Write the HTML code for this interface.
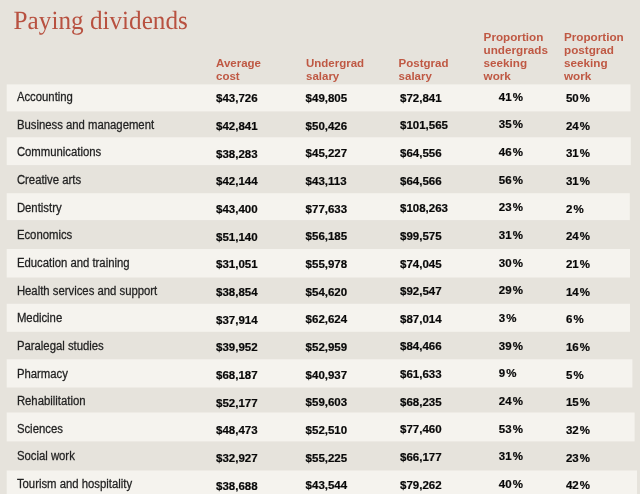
<!DOCTYPE html>
<html><head><meta charset="utf-8"><style>
html,body{margin:0;padding:0;}
body{width:640px;height:494px;overflow:hidden;background:#e6e3dc;}
svg{display:block;}
text{font-family:"Liberation Sans",Arial,sans-serif;white-space:pre;text-rendering:auto;}
.t{font-family:"Liberation Serif","Times New Roman",serif;text-rendering:geometricPrecision;font-size:26.3px;fill:#b85140;}
.h{font-weight:bold;font-size:11.5px;fill:#bf5843;}
.n{font-size:12.0px;fill:#222222;stroke:#222222;stroke-width:0.25px;}
.v{font-size:11.5px;font-weight:bold;fill:#080808;stroke:#080808;stroke-width:0.2px;}
</style></head><body>
<svg width="640" height="494" viewBox="0 0 640 494">
<rect x="0" y="0" width="640" height="494" fill="#e6e3dc"/>
<text class="t" transform="translate(13.6,28.6) scale(0.958,1)">Paying dividends</text>

<text class="h" x="216.0" y="67.00" style="font-size:11.5px">Average</text>
<text class="h" x="216.0" y="80.00" style="font-size:11.5px">cost</text>
<text class="h" x="306.0" y="67.00" style="font-size:11.5px">Undergrad</text>
<text class="h" x="306.0" y="80.00" style="font-size:11.5px">salary</text>
<text class="h" x="398.6" y="67.00" style="font-size:11.5px">Postgrad</text>
<text class="h" x="398.6" y="80.00" style="font-size:11.5px">salary</text>
<text class="h" x="483.6" y="41.00" style="font-size:11.7px">Proportion</text>
<text class="h" x="483.6" y="54.00" style="font-size:11.7px">undergrads</text>
<text class="h" x="483.6" y="67.00" style="font-size:11.7px">seeking</text>
<text class="h" x="483.6" y="80.00" style="font-size:11.7px">work</text>
<text class="h" x="564.0" y="41.00" style="font-size:11.7px">Proportion</text>
<text class="h" x="564.0" y="54.00" style="font-size:11.7px">postgrad</text>
<text class="h" x="564.0" y="67.00" style="font-size:11.7px">seeking</text>
<text class="h" x="564.0" y="80.00" style="font-size:11.7px">work</text>
<rect x="6.7" y="84.4" width="623.80" height="27.00" fill="#f5f3ee"/>
<rect x="6.7" y="137.3" width="624.10" height="27.80" fill="#f5f3ee"/>
<rect x="6.7" y="193.2" width="623.10" height="26.90" fill="#f5f3ee"/>
<rect x="6.7" y="249" width="623.30" height="28.50" fill="#f5f3ee"/>
<rect x="6.7" y="303.8" width="623.30" height="28.00" fill="#f5f3ee"/>
<rect x="6.7" y="359.3" width="625.70" height="28.20" fill="#f5f3ee"/>
<rect x="6.7" y="412.5" width="627.90" height="28.90" fill="#f5f3ee"/>
<rect x="6.7" y="470.5" width="630.30" height="23.50" fill="#f5f3ee"/>
<text class="n" transform="translate(16.9,101.00) scale(0.945,1)">Accounting</text>
<text class="v" x="216.0" y="102.40">$43,726</text>
<text class="v" x="305.6" y="102.10">$49,805</text>
<text class="v" x="400.0" y="101.60">$72,841</text>
<text class="v" x="498.8" y="100.70">41<tspan dx="1.1">%</tspan></text>
<text class="v" x="565.9" y="102.10">50<tspan dx="1.1">%</tspan></text>
<text class="n" transform="translate(16.9,128.65) scale(0.945,1)">Business and management</text>
<text class="v" x="216.0" y="130.05">$42,841</text>
<text class="v" x="305.6" y="129.75">$50,426</text>
<text class="v" x="400.0" y="129.25">$101,565</text>
<text class="v" x="498.8" y="128.35">35<tspan dx="1.1">%</tspan></text>
<text class="v" x="565.9" y="129.75">24<tspan dx="1.1">%</tspan></text>
<text class="n" transform="translate(16.9,156.30) scale(0.945,1)">Communications</text>
<text class="v" x="216.0" y="157.70">$38,283</text>
<text class="v" x="305.6" y="157.40">$45,227</text>
<text class="v" x="400.0" y="156.90">$64,556</text>
<text class="v" x="498.8" y="156.00">46<tspan dx="1.1">%</tspan></text>
<text class="v" x="565.9" y="157.40">31<tspan dx="1.1">%</tspan></text>
<text class="n" transform="translate(16.9,183.95) scale(0.945,1)">Creative arts</text>
<text class="v" x="216.0" y="185.35">$42,144</text>
<text class="v" x="305.6" y="185.05">$43,113</text>
<text class="v" x="400.0" y="184.55">$64,566</text>
<text class="v" x="498.8" y="183.65">56<tspan dx="1.1">%</tspan></text>
<text class="v" x="565.9" y="185.05">31<tspan dx="1.1">%</tspan></text>
<text class="n" transform="translate(16.9,211.60) scale(0.945,1)">Dentistry</text>
<text class="v" x="216.0" y="213.00">$43,400</text>
<text class="v" x="305.6" y="212.70">$77,633</text>
<text class="v" x="400.0" y="212.20">$108,263</text>
<text class="v" x="498.8" y="211.30">23<tspan dx="1.1">%</tspan></text>
<text class="v" x="565.9" y="212.70">2<tspan dx="1.1">%</tspan></text>
<text class="n" transform="translate(16.9,239.25) scale(0.945,1)">Economics</text>
<text class="v" x="216.0" y="240.65">$51,140</text>
<text class="v" x="305.6" y="240.35">$56,185</text>
<text class="v" x="400.0" y="239.85">$99,575</text>
<text class="v" x="498.8" y="238.95">31<tspan dx="1.1">%</tspan></text>
<text class="v" x="565.9" y="240.35">24<tspan dx="1.1">%</tspan></text>
<text class="n" transform="translate(16.9,266.90) scale(0.945,1)">Education and training</text>
<text class="v" x="216.0" y="268.30">$31,051</text>
<text class="v" x="305.6" y="268.00">$55,978</text>
<text class="v" x="400.0" y="267.50">$74,045</text>
<text class="v" x="498.8" y="266.60">30<tspan dx="1.1">%</tspan></text>
<text class="v" x="565.9" y="268.00">21<tspan dx="1.1">%</tspan></text>
<text class="n" transform="translate(16.9,294.55) scale(0.945,1)">Health services and support</text>
<text class="v" x="216.0" y="295.95">$38,854</text>
<text class="v" x="305.6" y="295.65">$54,620</text>
<text class="v" x="400.0" y="295.15">$92,547</text>
<text class="v" x="498.8" y="294.25">29<tspan dx="1.1">%</tspan></text>
<text class="v" x="565.9" y="295.65">14<tspan dx="1.1">%</tspan></text>
<text class="n" transform="translate(16.9,322.20) scale(0.945,1)">Medicine</text>
<text class="v" x="216.0" y="323.60">$37,914</text>
<text class="v" x="305.6" y="323.30">$62,624</text>
<text class="v" x="400.0" y="322.80">$87,014</text>
<text class="v" x="498.8" y="321.90">3<tspan dx="1.1">%</tspan></text>
<text class="v" x="565.9" y="323.30">6<tspan dx="1.1">%</tspan></text>
<text class="n" transform="translate(16.9,349.85) scale(0.945,1)">Paralegal studies</text>
<text class="v" x="216.0" y="351.25">$39,952</text>
<text class="v" x="305.6" y="350.95">$52,959</text>
<text class="v" x="400.0" y="350.45">$84,466</text>
<text class="v" x="498.8" y="349.55">39<tspan dx="1.1">%</tspan></text>
<text class="v" x="565.9" y="350.95">16<tspan dx="1.1">%</tspan></text>
<text class="n" transform="translate(16.9,377.50) scale(0.945,1)">Pharmacy</text>
<text class="v" x="216.0" y="378.90">$68,187</text>
<text class="v" x="305.6" y="378.60">$40,937</text>
<text class="v" x="400.0" y="378.10">$61,633</text>
<text class="v" x="498.8" y="377.20">9<tspan dx="1.1">%</tspan></text>
<text class="v" x="565.9" y="378.60">5<tspan dx="1.1">%</tspan></text>
<text class="n" transform="translate(16.9,405.15) scale(0.945,1)">Rehabilitation</text>
<text class="v" x="216.0" y="406.55">$52,177</text>
<text class="v" x="305.6" y="406.25">$59,603</text>
<text class="v" x="400.0" y="405.75">$68,235</text>
<text class="v" x="498.8" y="404.85">24<tspan dx="1.1">%</tspan></text>
<text class="v" x="565.9" y="406.25">15<tspan dx="1.1">%</tspan></text>
<text class="n" transform="translate(16.9,432.80) scale(0.945,1)">Sciences</text>
<text class="v" x="216.0" y="434.20">$48,473</text>
<text class="v" x="305.6" y="433.90">$52,510</text>
<text class="v" x="400.0" y="433.40">$77,460</text>
<text class="v" x="498.8" y="432.50">53<tspan dx="1.1">%</tspan></text>
<text class="v" x="565.9" y="433.90">32<tspan dx="1.1">%</tspan></text>
<text class="n" transform="translate(16.9,460.45) scale(0.945,1)">Social work</text>
<text class="v" x="216.0" y="461.85">$32,927</text>
<text class="v" x="305.6" y="461.55">$55,225</text>
<text class="v" x="400.0" y="461.05">$66,177</text>
<text class="v" x="498.8" y="460.15">31<tspan dx="1.1">%</tspan></text>
<text class="v" x="565.9" y="461.55">23<tspan dx="1.1">%</tspan></text>
<text class="n" transform="translate(16.9,488.10) scale(0.945,1)">Tourism and hospitality</text>
<text class="v" x="216.0" y="489.50">$38,688</text>
<text class="v" x="305.6" y="489.20">$43,544</text>
<text class="v" x="400.0" y="488.70">$79,262</text>
<text class="v" x="498.8" y="487.80">40<tspan dx="1.1">%</tspan></text>
<text class="v" x="565.9" y="489.20">42<tspan dx="1.1">%</tspan></text>
</svg></body></html>
